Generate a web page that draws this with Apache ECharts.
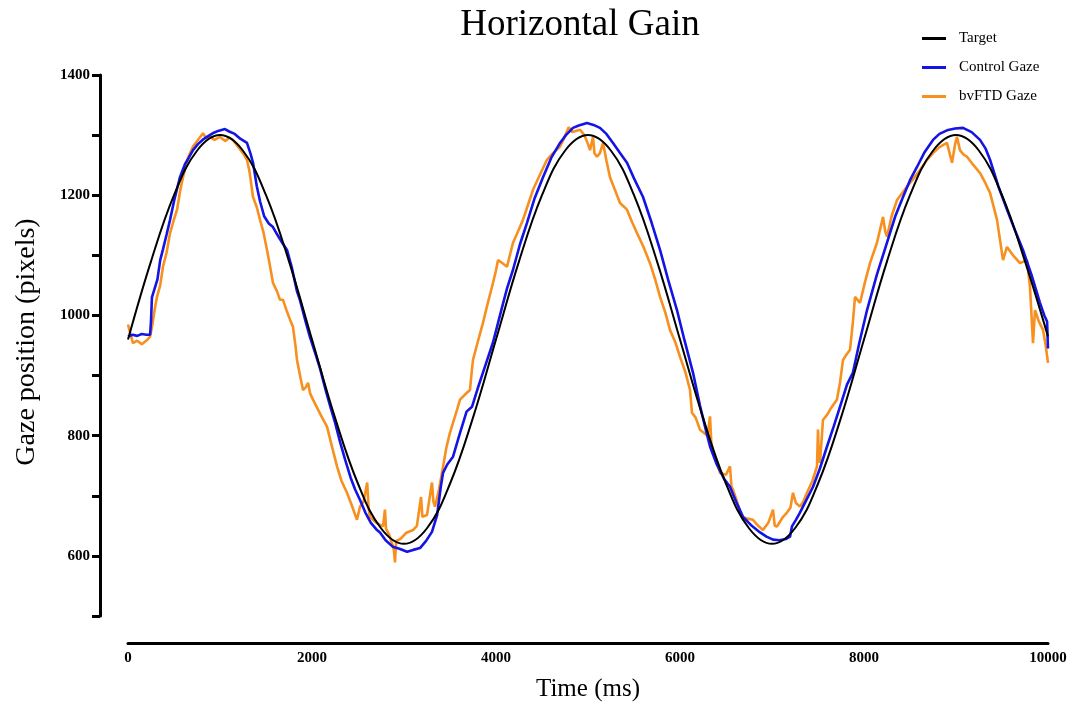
<!DOCTYPE html>
<html>
<head>
<meta charset="utf-8">
<script src="https://cdn.jsdelivr.net/npm/echarts@6/dist/echarts.min.js"></script>
<style>
html,body{margin:0;padding:0;background:#fff;}
#chart{width:1079px;height:709px;}
</style>
</head>
<body>
<div id="chart"></div>
<script>
// ---- Data ----
var xTicks = [0, 2000, 4000, 6000, 8000, 10000];
var yTickLabels = [600, 800, 1000, 1200, 1400];

var targetTime = [0,250,500,750,1000,1250,1500,1750,2000,2250,2500,2750,3000,3250,3500,3750,4000,4250,4500,4750,5000,5250,5500,5750,6000,6250,6500,6750,7000,7250,7500,7750,8000,8250,8500,8750,9000,9250,9500,9750,10000];
var targetValue = [960,1090,1200,1274,1300,1274,1200,1090,960,830,720,646,620,646,720,830,960,1090,1200,1274,1300,1274,1200,1090,960,830,720,646,620,646,720,830,960,1090,1200,1274,1300,1274,1200,1090,965];

var controlTime = [0,50,100,150,200,240,250,260,290,320,350,380,420,457,500,540,565,620,660,707,760,810,858,920,980,1054,1100,1160,1220,1293,1330,1359,1400,1435,1480,1530,1576,1620,1680,1728,1780,1837,1870,1930,1978,2040,2087,2150,2200,2250,2304,2360,2420,2470,2522,2580,2640,2700,2739,2800,2880,2950,3033,3100,3174,3240,3304,3360,3400,3424,3470,3533,3600,3680,3739,3800,3880,3967,4060,4120,4185,4260,4337,4420,4511,4600,4696,4760,4837,4900,4989,5060,5130,5200,5272,5350,5424,5500,5598,5690,5783,5870,5967,6050,6141,6217,6280,6326,6400,6480,6543,6610,6685,6780,6870,6940,7011,7080,7150,7196,7217,7260,7304,7370,7446,7520,7598,7670,7739,7815,7880,7950,8033,8140,8250,8340,8424,8500,8576,8660,8750,8820,8902,8990,9076,9170,9261,9320,9370,9460,9554,9640,9728,9820,9913,9960,9990,10000];
var controlValue = [965,968,966,969,968,968,990,1030,1045,1060,1092,1110,1135,1159,1190,1215,1230,1252,1262,1275,1285,1292,1297,1303,1307,1310,1306,1302,1294,1287,1270,1254,1215,1190,1165,1153,1147,1135,1120,1109,1080,1040,1025,990,964,935,912,875,848,822,790,760,730,710,693,672,655,644,639,626,615,612,607,610,613,625,640,668,715,738,752,765,800,840,848,878,915,955,1010,1045,1076,1118,1154,1195,1230,1262,1287,1300,1312,1316,1320,1317,1312,1302,1287,1270,1254,1228,1197,1155,1109,1060,1009,958,905,850,810,782,752,728,715,690,665,650,639,632,627,626,628,632,649,660,672,692,715,745,782,815,848,885,905,955,1009,1068,1121,1165,1197,1225,1247,1272,1292,1302,1308,1311,1312,1305,1292,1278,1259,1215,1176,1142,1109,1068,1021,1000,990,945];

var bvftdTime = [0,25,54,100,150,207,240,261,290,315,350,380,420,457,500,533,570,598,650,707,760,815,850,891,940,1000,1060,1100,1141,1200,1250,1293,1320,1359,1400,1435,1470,1511,1540,1576,1620,1652,1685,1720,1761,1793,1820,1837,1870,1902,1930,1957,1980,2011,2060,2110,2163,2220,2272,2320,2380,2430,2489,2522,2560,2600,2615,2630,2700,2772,2793,2805,2840,2890,2902,2915,2960,3020,3098,3140,3185,3200,3250,3304,3320,3337,3380,3424,3460,3500,3540,3576,3609,3660,3717,3735,3750,3800,3859,3910,3967,4000,4022,4060,4120,4150,4185,4240,4293,4350,4402,4480,4554,4620,4696,4740,4790,4830,4913,4960,5000,5022,5054,5070,5098,5130,5163,5200,5239,5290,5348,5424,5480,5533,5600,5674,5730,5783,5840,5891,5950,6000,6060,6109,6130,6170,6217,6300,6326,6340,6359,6400,6435,6500,6543,6560,6576,6620,6674,6730,6793,6850,6902,6960,7011,7030,7054,7120,7163,7200,7228,7260,7304,7340,7380,7440,7489,7500,7510,7522,7554,7600,7630,7706,7739,7772,7810,7848,7880,7902,7957,8010,8065,8141,8207,8230,8250,8300,8359,8467,8540,8609,8680,8750,8820,8902,8930,8957,8990,9011,9043,9080,9120,9190,9261,9320,9370,9446,9511,9554,9620,9696,9772,9804,9837,9859,9900,9946,9975,10000];
var bvftdValue = [985,970,954,958,952,959,965,981,1010,1031,1050,1081,1105,1137,1160,1176,1210,1230,1262,1281,1292,1303,1295,1297,1292,1297,1290,1296,1292,1280,1270,1259,1240,1197,1180,1159,1140,1109,1085,1054,1040,1026,1026,1010,993,981,950,926,900,876,880,888,870,860,845,830,815,780,749,725,705,685,660,682,690,722,680,665,655,649,677,645,635,610,589,625,628,638,643,650,698,665,668,722,690,682,710,748,780,805,825,843,860,868,876,905,926,955,988,1020,1054,1075,1092,1088,1081,1100,1121,1140,1159,1185,1209,1235,1259,1270,1281,1295,1313,1305,1309,1300,1285,1275,1297,1270,1264,1270,1287,1258,1230,1210,1187,1176,1155,1137,1115,1087,1060,1031,1005,976,955,931,905,876,838,830,810,800,832,790,772,755,738,735,749,715,710,690,665,662,660,650,643,655,677,650,649,665,672,680,705,688,682,690,705,725,749,810,760,755,826,835,843,860,888,926,935,943,990,1031,1021,1055,1087,1121,1164,1140,1131,1165,1192,1214,1228,1242,1258,1270,1280,1287,1270,1254,1285,1297,1275,1268,1264,1250,1237,1220,1204,1159,1092,1114,1100,1087,1092,1048,954,1009,990,976,950,921];

function pairs(t, v) { return t.map(function (x, i) { return [x, v[i]]; }); }

var FONT = '"Liberation Serif", "DejaVu Serif", serif';
var chart = echarts.init(document.getElementById('chart'), null, {renderer: 'canvas'});
chart.setOption({
  animation: false,
  backgroundColor: '#ffffff',
  title: {
    text: 'Horizontal Gain',
    left: 575, top: 2, textAlign: 'center',
    textStyle: {fontFamily: FONT, fontSize: 37, fontWeight: 'normal', color: '#000'}
  },
  legend: {
    data: ['Target', 'Control Gaze', 'bvFTD Gaze'],
    orient: 'vertical', left: 917, top: 26,
    icon: 'rect', itemWidth: 24, itemHeight: 3, itemGap: 14,
    textStyle: {fontFamily: FONT, fontSize: 15, color: '#000', padding: [0, 0, 0, 8]}
  },
  graphic: [{
    type: 'text', x: 27, y: 342, rotation: Math.PI / 2,
    style: {text: 'Gaze position (pixels)', fontFamily: FONT, fontSize: 28, fill: '#000',
      textAlign: 'center', textVerticalAlign: 'middle'}
  }],
  grid: {left: 128, right: 31, top: 75, bottom: 93, containLabel: false},
  xAxis: {
    type: 'value', min: xTicks[0], max: xTicks[xTicks.length - 1], interval: 2000,
    offset: 27,
    name: 'Time (ms)', nameLocation: 'middle', nameGap: 34,
    nameTextStyle: {fontFamily: FONT, fontSize: 25, color: '#000'},
    axisLine: {show: true, onZero: false, lineStyle: {color: '#000', width: 3}},
    axisTick: {show: false},
    axisLabel: {fontFamily: FONT, fontWeight: 'bold', fontSize: 15, color: '#000', margin: 8,
      formatter: function (v) { return String(v); }},
    splitLine: {show: false}
  },
  yAxis: {
    type: 'value', min: 500, max: 1400, interval: 100,
    offset: 28,
    axisLine: {show: true, onZero: false, lineStyle: {color: '#000', width: 3}},
    axisTick: {show: true, length: 8, lineStyle: {color: '#000', width: 3}},
    axisLabel: {
      fontFamily: FONT, fontWeight: 'bold', fontSize: 15, color: '#000', margin: 10,
      formatter: function (v) { return yTickLabels.indexOf(v) >= 0 ? String(v) : ''; }
    },
    splitLine: {show: false}
  },
  series: [
    {name: 'bvFTD Gaze', type: 'line', data: pairs(bvftdTime, bvftdValue), showSymbol: false,
      lineStyle: {color: '#f7901e', width: 2.6}, itemStyle: {color: '#f7901e'}},
    {name: 'Control Gaze', type: 'line', data: pairs(controlTime, controlValue), showSymbol: false,
      lineStyle: {color: '#1414e4', width: 2.6}, itemStyle: {color: '#1414e4'}},
    {name: 'Target', type: 'line', data: pairs(targetTime, targetValue), showSymbol: false, smooth: 0.4,
      lineStyle: {color: '#000', width: 2}, itemStyle: {color: '#000'}}
  ]
});
</script>
</body>
</html>
